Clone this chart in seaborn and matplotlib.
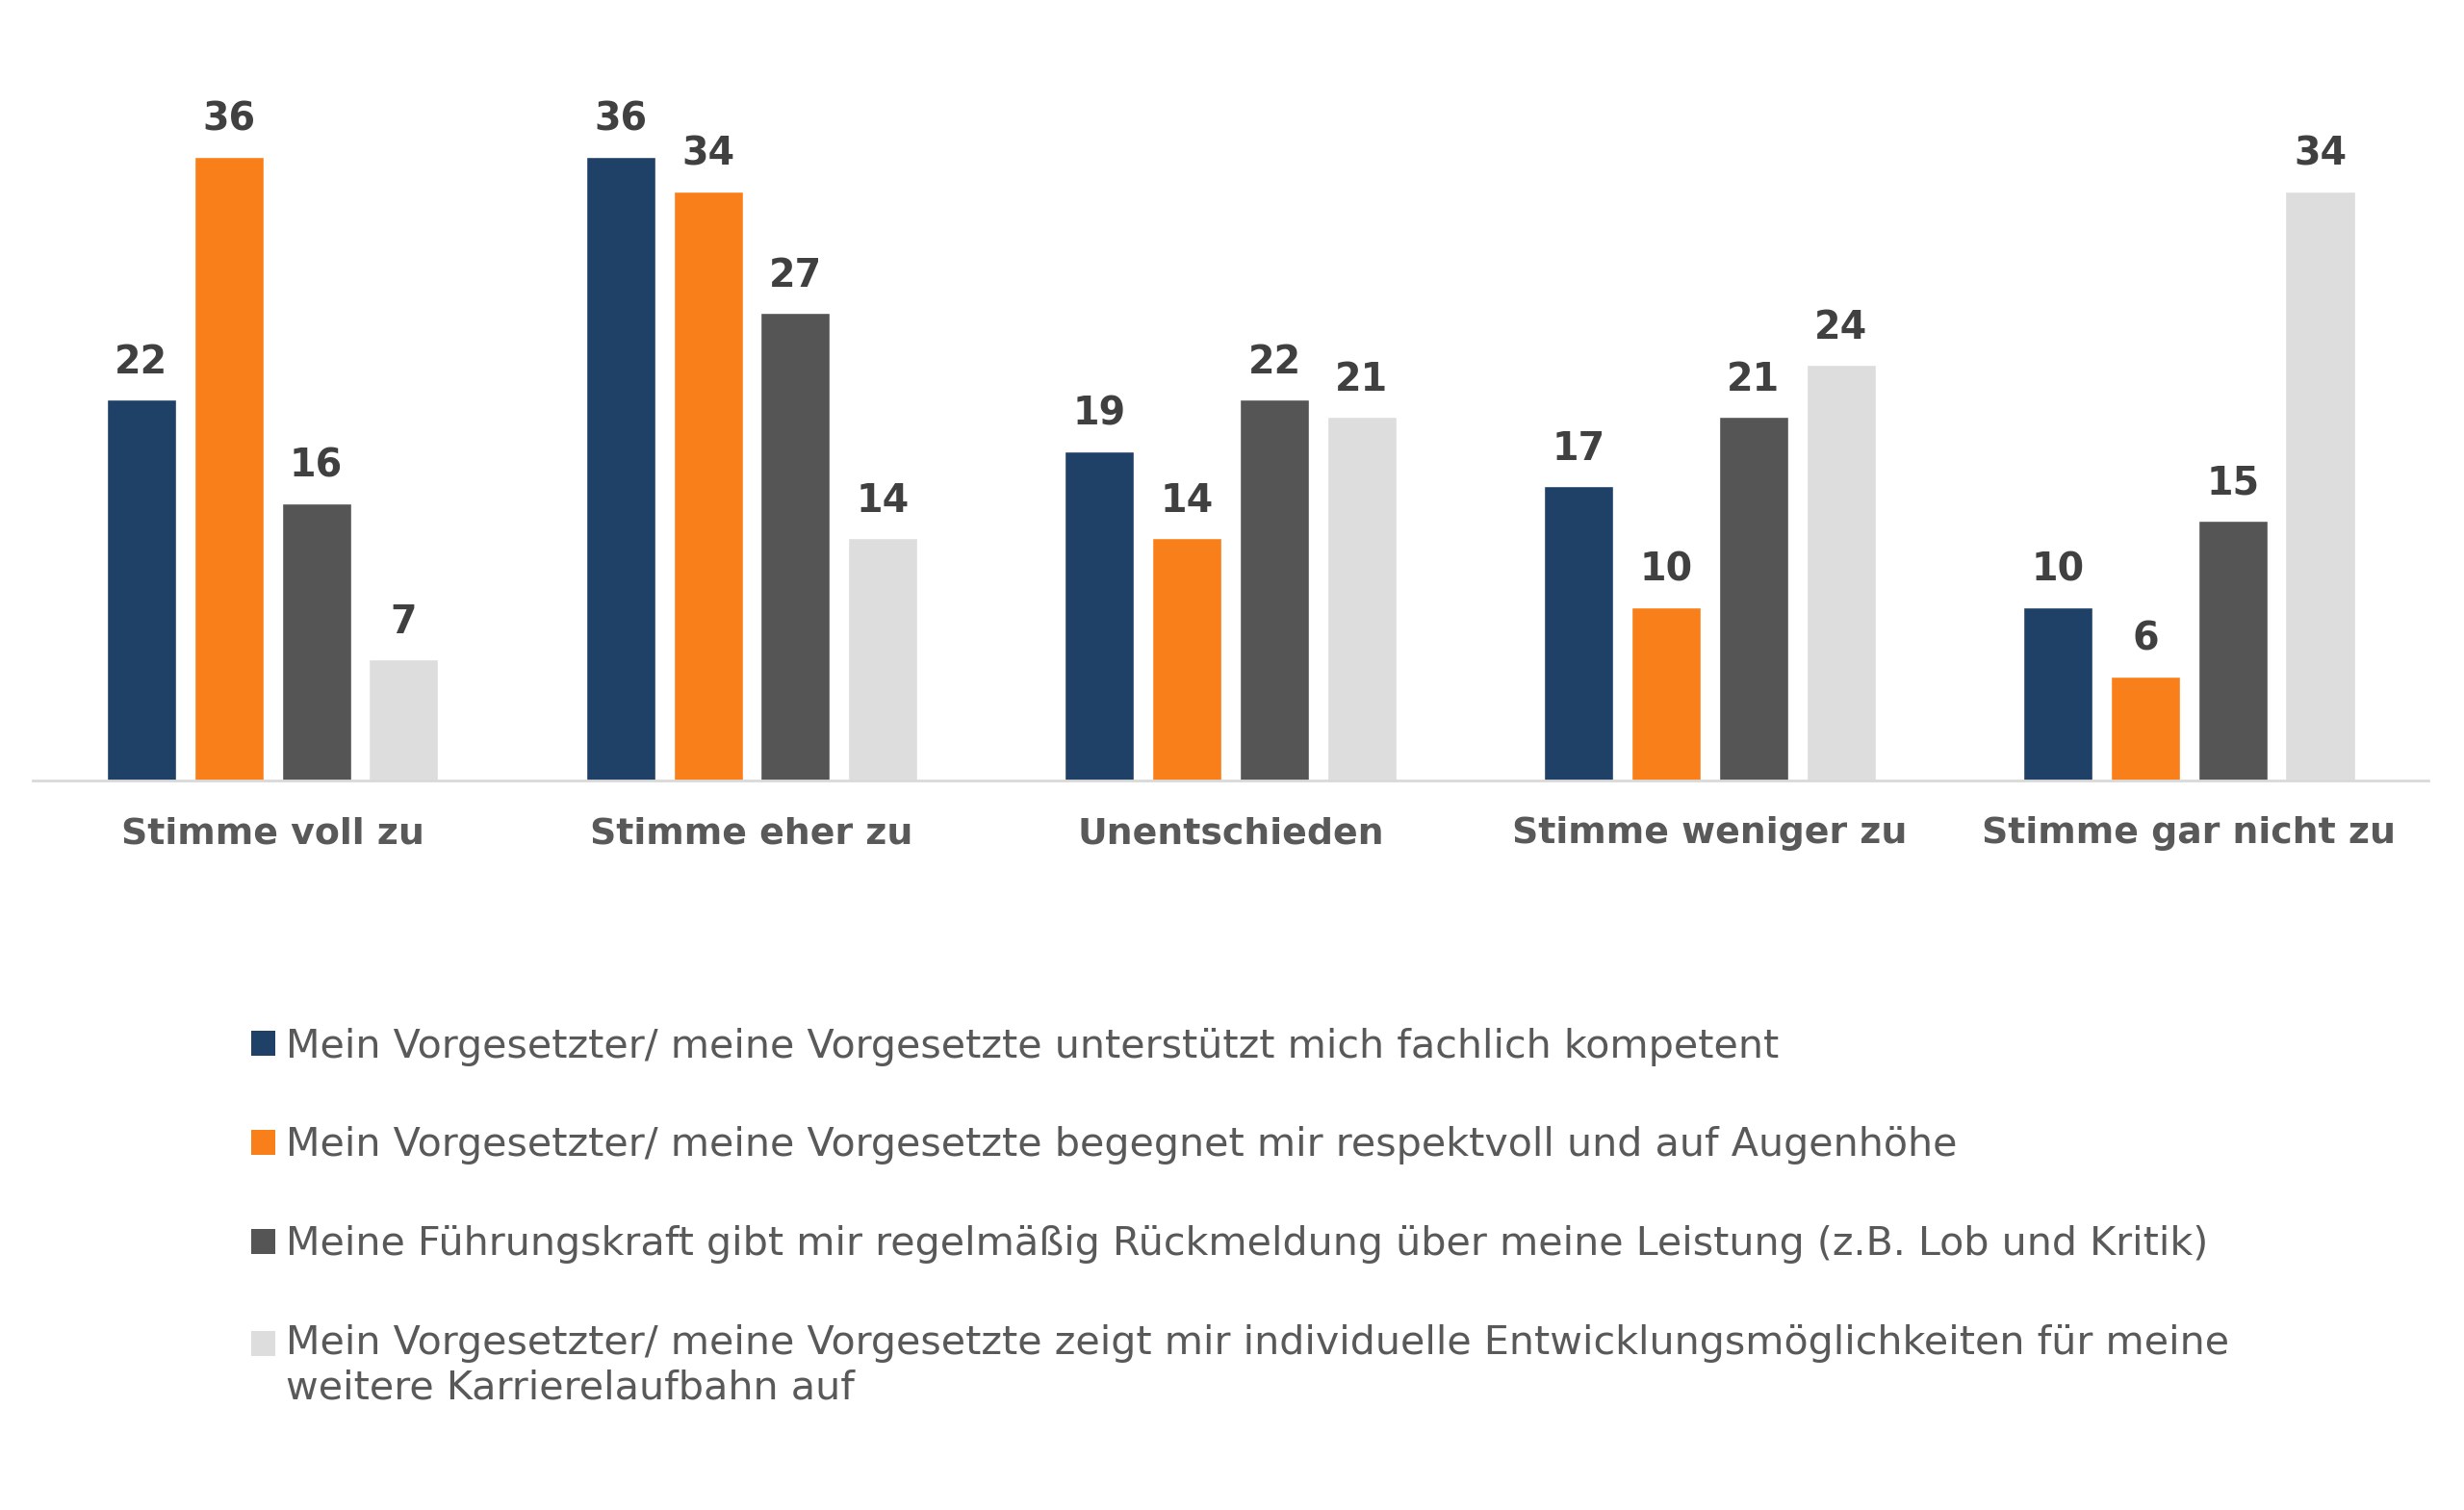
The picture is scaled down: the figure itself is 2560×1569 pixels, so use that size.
import pandas as pd
import seaborn as sns
import matplotlib.pyplot as plt
from matplotlib.patches import Patch, Rectangle
from matplotlib.legend_handler import HandlerPatch

# answer categories on the x axis
categories = ['Stimme voll zu', 'Stimme eher zu', 'Unentschieden',
              'Stimme weniger zu', 'Stimme gar nicht zu']

# statements (legend)
statements = [
    'Mein Vorgesetzter/ meine Vorgesetzte unterstützt mich fachlich kompetent',
    'Mein Vorgesetzter/ meine Vorgesetzte begegnet mir respektvoll und auf Augenhöhe',
    'Meine Führungskraft gibt mir regelmäßig Rückmeldung über meine Leistung (z.B. Lob und Kritik)',
    'Mein Vorgesetzter/ meine Vorgesetzte zeigt mir individuelle Entwicklungsmöglichkeiten für meine\nweitere Karrierelaufbahn auf',
]

# percent values per statement, in category order
fachlich = [22, 36, 19, 17, 10]
respekt = [36, 34, 14, 10, 6]
feedback = [16, 27, 22, 21, 15]
entwicklung = [7, 14, 21, 24, 34]

colors = ['#1F4167', '#F97F1A', '#555555', '#DDDDDD']

rows = []
for stmt, vals in zip(statements, [fachlich, respekt, feedback, entwicklung]):
    for cat, v in zip(categories, vals):
        rows.append({'Antwort': cat, 'Aussage': stmt, 'Prozent': v})
df = pd.DataFrame(rows)


class TopPatch(HandlerPatch):
    """legend square aligned with the first line of a two-line label"""
    def __init__(self, shift):
        super().__init__()
        self.shift = shift

    def _create_patch(self, legend, orig_handle, xdescent, ydescent,
                      width, height, fontsize):
        return Rectangle((-xdescent, -ydescent + self.shift), width, height)


sns.set_style('white')
plt.rcParams['font.family'] = ['DejaVu Sans']

fig = plt.figure(figsize=(25.6, 15.69), dpi=100)
ax = fig.add_axes([0.0134, 0.4833, 0.9722, 0.459])

sns.barplot(data=df, x='Antwort', y='Prozent', hue='Aussage',
            hue_order=statements, order=categories, palette=colors,
            width=0.73, gap=0.207, saturation=1, legend=False, ax=ax)

for c in ax.containers:
    ax.bar_label(c, fmt='%d', padding=13, fontsize=28.5, fontweight='bold',
                 color='#404040')

ax.set_xlim(-0.5, 4.5)
ax.set_ylim(0, 40)
ax.set_xlabel('')
ax.set_ylabel('')
ax.set_yticks([])
ax.tick_params(axis='x', length=0, pad=27, labelsize=27.3, labelcolor='#595959')
for lbl in ax.get_xticklabels():
    lbl.set_fontweight('bold')
for side in ['top', 'left', 'right']:
    ax.spines[side].set_visible(False)
ax.spines['bottom'].set_color('#D9D9D9')
ax.spines['bottom'].set_linewidth(2)

handles = [Patch(facecolor=col, edgecolor='none') for col in colors]
fig.legend(handles, statements, loc='upper left',
           bbox_to_anchor=(0.0957, 0.330), frameon=False, fontsize=29.7,
           labelcolor='#595959', handlelength=0.59, handleheight=0.59,
           handletextpad=0.26, labelspacing=1.52, borderaxespad=0,
           handler_map={handles[3]: TopPatch(17)})

fig.savefig('out.png', dpi=100, facecolor='white')
